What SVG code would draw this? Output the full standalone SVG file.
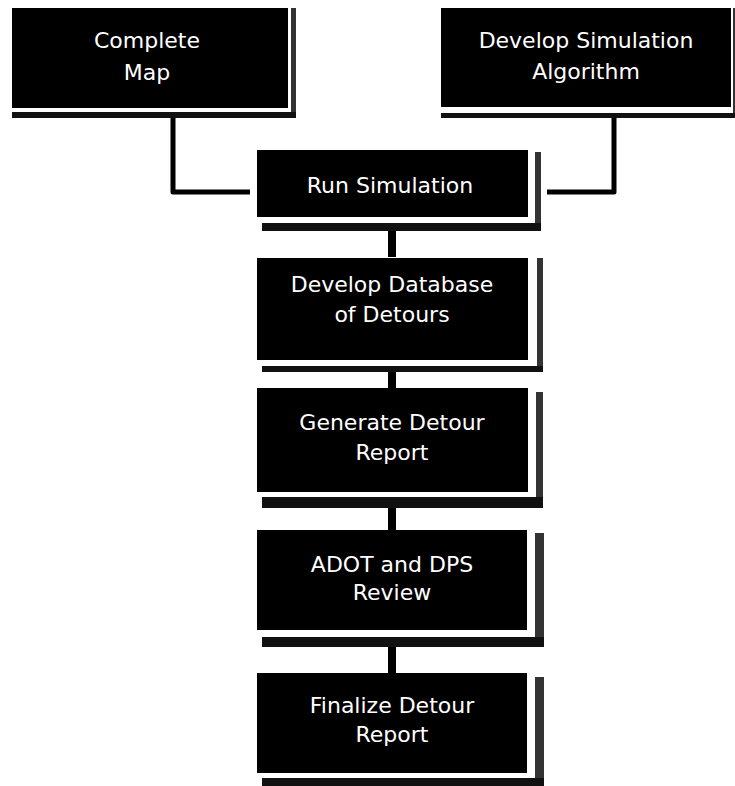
<svg xmlns="http://www.w3.org/2000/svg" width="735" height="786" viewBox="0 0 735 786">
<style>
.box{fill:#000}
.sr{fill:#333}
.sb{fill:#111}
.lbl{fill:#fff;font-family:"DejaVu Sans","Liberation Sans",sans-serif;font-size:22px;text-anchor:middle}
.conn{fill:none;stroke:#000;stroke-width:5;stroke-linejoin:round}
.stem{fill:#000}
</style>
<rect width="735" height="786" fill="#fff"/>
<g id="connectors">
<path class="conn" d="M173 118 V192 H250"/>
<path class="conn" d="M614 118 V192 H547"/>
<rect class="stem" x="388" y="231" width="8" height="26"/>
<rect class="stem" x="388" y="372" width="8" height="16"/>
<rect class="stem" x="388" y="508" width="8" height="22"/>
<rect class="stem" x="388" y="647" width="8" height="26"/>
</g>
<g id="complete-map">
<rect class="sr" x="291" y="8" width="5" height="110"/>
<rect class="sb" x="12" y="112" width="284" height="6"/>
<rect class="box" x="12" y="8" width="276" height="100"/>
<text class="lbl" x="147" y="48">Complete</text>
<text class="lbl" x="147" y="80">Map</text>
</g>
<g id="develop-simulation-algorithm">
<rect class="sr" x="733" y="8" width="2" height="110"/>
<rect class="sb" x="441" y="113" width="294" height="5"/>
<rect class="box" x="441" y="8" width="290" height="99"/>
<text class="lbl" x="586" y="48">Develop Simulation</text>
<text class="lbl" x="586" y="79">Algorithm</text>
</g>
<g id="run-simulation">
<rect class="sr" x="535" y="152" width="6" height="79"/>
<rect class="sb" x="262" y="223" width="279" height="8"/>
<rect class="box" x="257" y="150" width="271" height="67"/>
<text class="lbl" x="390" y="193">Run Simulation</text>
</g>
<g id="develop-database">
<rect class="sr" x="537" y="258" width="6" height="114"/>
<rect class="sb" x="262" y="366" width="281" height="6"/>
<rect class="box" x="257" y="258" width="271" height="102"/>
<text class="lbl" x="392" y="292">Develop Database</text>
<text class="lbl" x="392" y="322">of Detours</text>
</g>
<g id="generate-detour-report">
<rect class="sr" x="536" y="392" width="7" height="116"/>
<rect class="sb" x="262" y="497" width="281" height="11"/>
<rect class="box" x="257" y="388" width="271" height="104"/>
<text class="lbl" x="392" y="430">Generate Detour</text>
<text class="lbl" x="392" y="460">Report</text>
</g>
<g id="adot-dps-review">
<rect class="sr" x="535" y="533" width="9" height="114"/>
<rect class="sb" x="262" y="637" width="282" height="10"/>
<rect class="box" x="257" y="530" width="270" height="100"/>
<text class="lbl" x="392" y="572">ADOT and DPS</text>
<text class="lbl" x="392" y="600">Review</text>
</g>
<g id="finalize-detour-report">
<rect class="sr" x="535" y="677" width="9" height="109"/>
<rect class="sb" x="262" y="778" width="282" height="8"/>
<rect class="box" x="257" y="673" width="270" height="100"/>
<text class="lbl" x="392" y="713">Finalize Detour</text>
<text class="lbl" x="392" y="742">Report</text>
</g>
</svg>
